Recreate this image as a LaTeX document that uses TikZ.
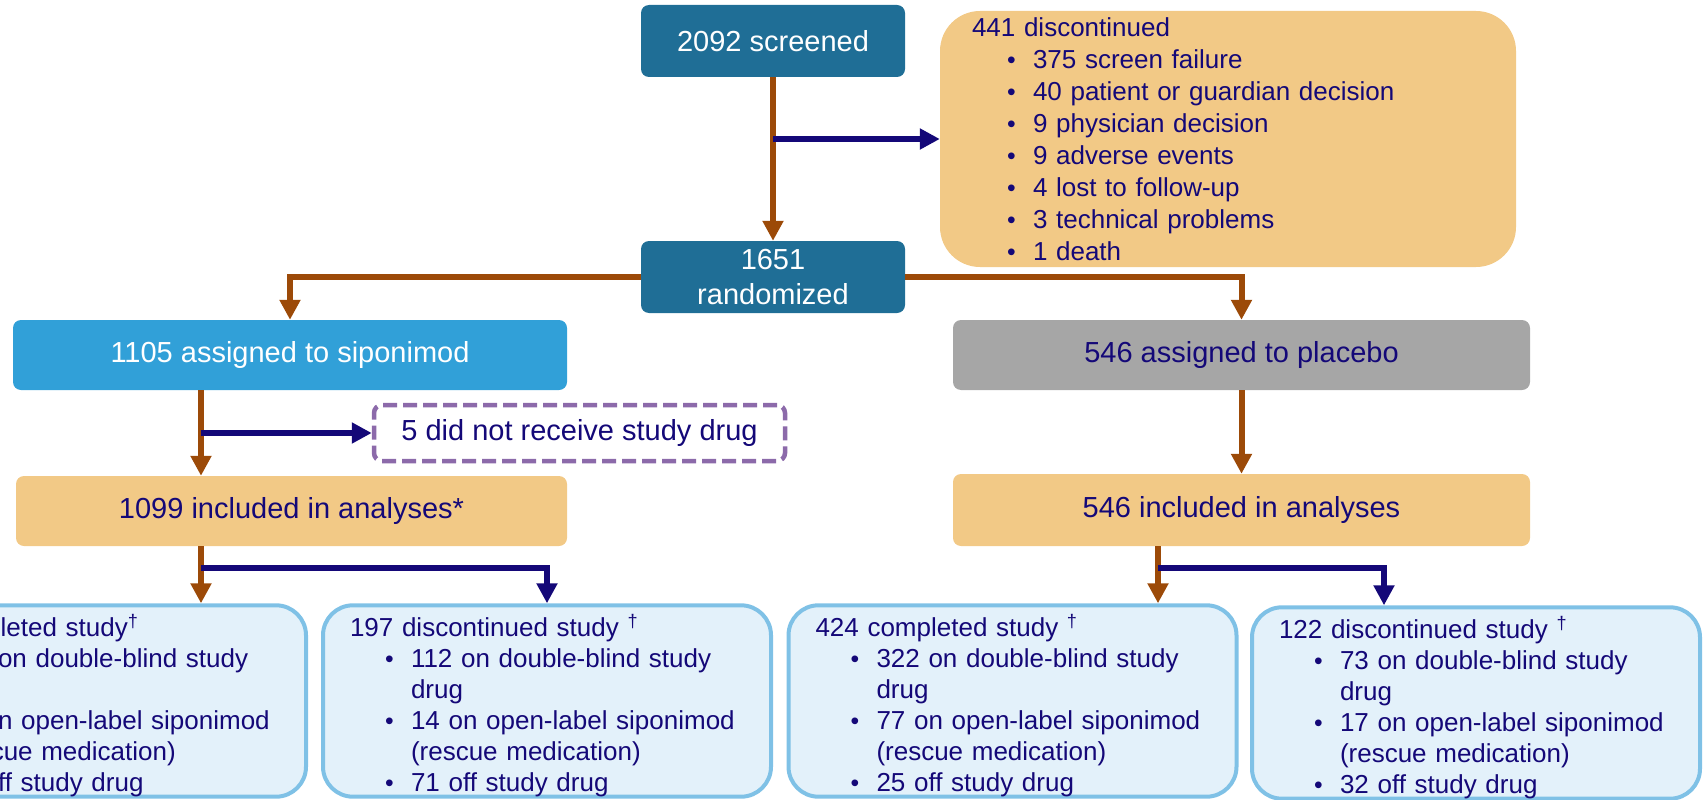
\documentclass[tikz,border=0pt]{standalone}
\usepackage{fontspec}
\setmainfont{Liberation Sans}
\usepackage{xcolor}
\usetikzlibrary{arrows.meta,positioning,calc}
\definecolor{scrteal}{RGB}{31,110,150}
\definecolor{sipblue}{RGB}{49,160,216}
\definecolor{tanbox}{RGB}{242,201,134}
\definecolor{greybox}{RGB}{166,166,166}
\definecolor{lightbox}{RGB}{227,241,250}
\definecolor{lightedge}{RGB}{127,193,230}
\definecolor{navyline}{RGB}{20,8,120}
\definecolor{brownline}{RGB}{156,74,8}
\definecolor{dashpurple}{RGB}{140,106,170}
\newcommand{\bul}{\makebox[26pt][l]{\scalebox{0.95}{•}}}
\newcommand{\itm}{\hspace*{35pt}\bul}
\newcommand{\cont}{\hspace*{61pt}}
\newcommand{\topstrut}{\rule{0pt}{31pt}}

\begin{document}
\begin{tikzpicture}[x=1pt, y=-1pt, text=navyline,
  mainbox/.style={rounded corners=8pt, align=center, inner sep=0pt, font=\fontsize{29pt}{35pt}\selectfont},
  listbox/.style={align=left, inner ysep=0pt, font=\fontsize{26pt}{31pt}\selectfont},
  outbox/.style={listbox, draw=lightedge, fill=lightbox, line width=4pt, rounded corners=30pt, inner xsep=27pt, text width=394pt, minimum height=190pt},
  brarr/.style={draw=brownline, line width=6pt, -{Triangle[length=20pt, width=20pt]}},
  nvarr/.style={draw=navyline, line width=6.5pt, -{Triangle[length=20pt, width=20pt]}}]
  \useasboundingbox (0,0) rectangle (1703,800);
  \node[mainbox, fill=scrteal, text=white, minimum width=264pt, minimum height=72pt] (scr) at (773,41) {2092 screened};
  \node[mainbox, fill=scrteal, text=white, minimum width=264pt, minimum height=72pt] (rnd) at (773,277) {1651\\randomized};
  \node[listbox, fill=tanbox, rounded corners=40pt, inner xsep=32pt, text width=512pt, minimum height=256pt, font=\fontsize{26pt}{32pt}\selectfont] (excl) at (1228,139) {441 discontinued\\
    \itm 375 screen failure\\ \itm 40 patient or guardian decision\\ \itm 9 physician decision\\ \itm 9 adverse events\\
    \itm 4 lost to follow-up\\ \itm 3 technical problems\\ \itm 1 death};
  \node[mainbox, fill=sipblue, text=white, minimum width=554pt, minimum height=70pt] (sip) at (290,355) {1105 assigned to siponimod};
  \node[mainbox, fill=greybox, minimum width=577pt, minimum height=70pt] (pla) at (1241.5,355) {546 assigned to placebo};
  \node[mainbox, draw=dashpurple, dash pattern=on 14pt off 6pt, line width=4.5pt, fill=white, minimum width=411pt, minimum height=56pt] (nrx) at (579.5,433) {5 did not receive study drug};
  \node[mainbox, fill=tanbox, minimum width=551pt, minimum height=70pt] (inc1) at (291.5,511) {1099 included in analyses*};
  \node[mainbox, fill=tanbox, minimum width=577pt, minimum height=72pt] (inc2) at (1241.5,510) {546 included in analyses};
  \node[outbox] (b1) at (82,701) {\topstrut\phantom{000} completed study\textsuperscript{†}\\
    \itm \phantom{000} on double-blind study\\ \cont drug\\ \itm \phantom{00} on open-label siponimod\\ \cont (rescue medication)\\ \itm \phantom{00} off study drug};
  \node[outbox] (b2) at (547,701) {\topstrut 197 discontinued study \textsuperscript{†}\\
    \itm 112 on double-blind study\\ \cont drug\\ \itm 14 on open-label siponimod\\ \cont (rescue medication)\\ \itm 71 off study drug};
  \node[outbox] (b3) at (1012.5,701) {\topstrut 424 completed study \textsuperscript{†}\\
    \itm 322 on double-blind study\\ \cont drug\\ \itm 77 on open-label siponimod\\ \cont (rescue medication)\\ \itm 25 off study drug};
  \node[outbox, minimum height=186pt] (b4) at (1476,703) {\topstrut 122 discontinued study \textsuperscript{†}\\
    \itm 73 on double-blind study\\ \cont drug\\ \itm 17 on open-label siponimod\\ \cont (rescue medication)\\ \itm 32 off study drug};
  \coordinate (sx) at (201,0); \coordinate (j1) at (201,568);
  \coordinate (px) at (1158,0); \coordinate (j2) at (1158,568); \coordinate (qx) at (1384,0);
  \draw[brarr] (scr) -- (rnd); \draw[brarr] (rnd.west) -| (sip.north); \draw[brarr] (rnd.east) -| (pla.north);
  \draw[brarr] (sip.south -| sx) -- (inc1.north -| sx); \draw[brarr] (inc1.south -| sx) -- (b1.north -| sx);
  \draw[brarr] (pla) -- (inc2); \draw[brarr] (inc2.south -| px) -- (b3.north -| px);
  \draw[nvarr] (scr.south |- excl.west) -- (excl.west); \draw[nvarr] (nrx.west -| sx) -- (nrx.west);
  \draw[nvarr] (j1) -| (b2.north); \draw[nvarr] (j2) -| (b4.north -| qx);
\end{tikzpicture}
\end{document}
